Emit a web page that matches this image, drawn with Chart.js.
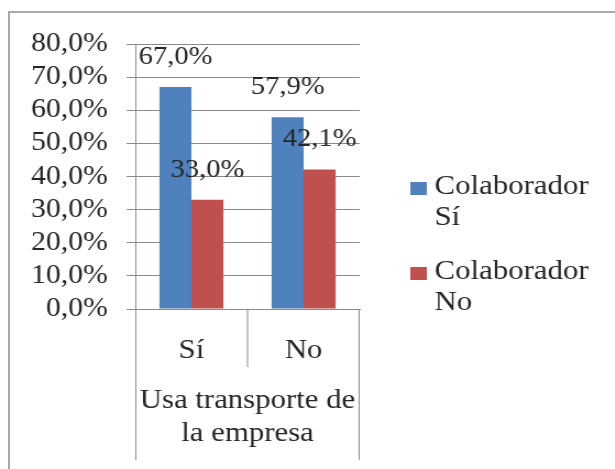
<!DOCTYPE html>
<html>
<head>
<meta charset="utf-8">
<script src="https://cdn.jsdelivr.net/npm/chart.js@4/dist/chart.umd.min.js"></script>
<style>
  html, body { margin: 0; padding: 0; background: #ffffff; overflow: hidden; }
  body { width: 615px; height: 469px; position: relative; }
  #frame { position: absolute; left: 8px; top: 11px; width: 640px; height: 500px; border: 2px solid #a9a9a9; box-sizing: border-box; }
  #wrap { position: absolute; left: 0; top: 0; width: 559px; height: 469px; transform: scaleX(1.1); transform-origin: 0 0; }
</style>
</head>
<body>
<div id="frame"></div>
<div id="wrap"><canvas id="c"></canvas></div>
<script>
// ---- data ----
const categories = ['Sí', 'No'];
const axisGroupLabel = ['Usa transporte de', 'la empresa'];
const seriesNames = ['Colaborador Sí', 'Colaborador No'];
const colaboradorSi = [67.0, 57.9];
const colaboradorNo = [33.0, 42.1];
const yTicks = [0, 10, 20, 30, 40, 50, 60, 70, 80];

const seriesColors = ['#4f81bd', '#c0504d'];
const FONT = "'Liberation Serif', 'Times New Roman', serif";
const TEXT = '#262626';
const GRID = '#8a8a8a';

function fmt(v) { return v.toFixed(1).replace('.', ',') + '%'; }

const dataLabels = {
  id: 'dataLabels',
  afterDatasetsDraw(chart) {
    const ctx = chart.ctx;
    ctx.save();
    ctx.font = '26px ' + FONT;
    ctx.fillStyle = TEXT;
    ctx.textAlign = 'center';
    ctx.textBaseline = 'middle';
    chart.data.datasets.forEach((ds, i) => {
      chart.getDatasetMeta(i).data.forEach((el, j) => {
        ctx.fillText(fmt(ds.data[j]), el.x, el.y - 30);
      });
    });
    ctx.restore();
  }
};

const separators = {
  id: 'separators',
  afterDraw(chart) {
    const ctx = chart.ctx;
    const x = chart.scales.x;
    const bottom = chart.chartArea.bottom;
    ctx.save();
    ctx.strokeStyle = GRID;
    ctx.lineWidth = 1;
    const n = chart.data.labels.length;
    const pts = [];
    for (let i = 0; i < n - 1; i++) {
      pts.push((x.getPixelForValue(i) + x.getPixelForValue(i + 1)) / 2);
    }
    ctx.beginPath();
    ctx.moveTo(x.left + 0.5, bottom); ctx.lineTo(x.left + 0.5, 460);
    ctx.moveTo(x.right - 0.5, bottom); ctx.lineTo(x.right - 0.5, 460);
    pts.forEach(p => { ctx.moveTo(p, bottom); ctx.lineTo(p, 367); });
    ctx.stroke();
    ctx.restore();
  }
};

const sideLegend = {
  id: 'sideLegend',
  afterDraw(chart) {
    const ctx = chart.ctx;
    ctx.save();
    ctx.font = '28px ' + FONT;
    ctx.textBaseline = 'middle';
    ctx.textAlign = 'left';
    const boxX = 373, textX = 395;
    let y = 187;
    chart.data.datasets.forEach((ds) => {
      const words = ds.label.split(' ');
      ctx.fillStyle = ds.backgroundColor;
      ctx.fillRect(boxX, y - 5, 15, 13);
      ctx.fillStyle = TEXT;
      words.forEach((w, k) => ctx.fillText(w, textX, y + k * 31));
      y += 85;
    });
    ctx.restore();
  }
};

new Chart(document.getElementById('c'), {
  type: 'bar',
  data: {
    labels: categories,
    datasets: [
      { label: seriesNames[0], data: colaboradorSi, backgroundColor: seriesColors[0] },
      { label: seriesNames[1], data: colaboradorNo, backgroundColor: seriesColors[1] }
    ]
  },
  options: {
    responsive: true,
    maintainAspectRatio: false,
    animation: false,
    devicePixelRatio: 1,
    categoryPercentage: 0.57,
    barPercentage: 1.0,
    layout: { padding: { top: 44, right: 232, left: 0, bottom: 0 } },
    plugins: { legend: { display: false }, tooltip: { enabled: false }, title: { display: false } },
    scales: {
      y: {
        min: yTicks[0], max: yTicks[yTicks.length - 1],
        afterFit(s) { s.width = 123; },
        afterBuildTicks(s) { s.ticks = yTicks.map(v => ({ value: v })); },
        ticks: { font: { family: FONT, size: 27 }, color: TEXT, padding: 17, autoSkip: false, callback: v => fmt(v) },
        grid: { color: GRID, tickLength: 8, drawTicks: true },
        border: { display: true, color: GRID }
      },
      x: {
        afterFit(s) { s.height = 160; },
        grid: { display: false },
        border: { display: true, color: GRID },
        ticks: { font: { family: FONT, size: 28 }, color: TEXT, padding: 17, maxRotation: 0, autoSkip: false },
        title: {
          display: true, text: axisGroupLabel, color: TEXT,
          font: { family: FONT, size: 28, lineHeight: 1.18 },
          padding: { top: 0, bottom: 19 }
        }
      }
    }
  },
  plugins: [dataLabels, separators, sideLegend]
});
</script>
</body>
</html>
